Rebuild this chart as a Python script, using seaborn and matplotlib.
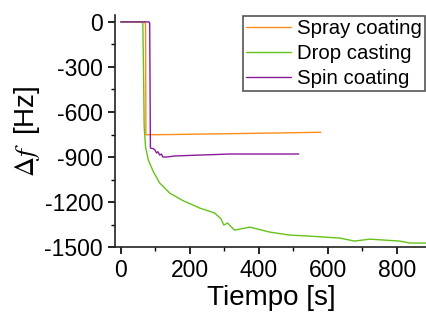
import pandas as pd
import seaborn as sns
import matplotlib.pyplot as plt

# datos
t_spray = [0, 70, 72, 73, 150, 300, 450, 580]
f_spray = [0, 0, -20, -752, -750, -745, -740, -735]

t_drop = [0, 64, 66, 68, 72, 80, 95, 113, 142, 180, 229, 272, 290, 299, 310, 318, 330, 374, 432, 490, 548, 635, 678, 722, 809, 838, 887]
f_drop = [0, 0, -300, -700, -833, -920, -1000, -1073, -1140, -1190, -1240, -1273, -1310, -1353, -1340, -1360, -1387, -1367, -1400, -1420, -1427, -1440, -1460, -1447, -1460, -1473, -1473]

t_spin = [0, 82, 84, 86, 95, 99, 104, 108, 113, 118, 122, 133, 157, 229, 316, 400, 516]
f_spin = [0, 0, -10, -840, -845, -853, -873, -865, -887, -880, -900, -900, -893, -887, -880, -880, -880]

labels = ["Spray coating", "Drop casting", "Spin coating"]
colores = ["#ff8c1a", "#66c21a", "#8a1a9b"]

df = pd.concat([
    pd.DataFrame({"t": t_spray, "f": f_spray, "serie": labels[0]}),
    pd.DataFrame({"t": t_drop, "f": f_drop, "serie": labels[1]}),
    pd.DataFrame({"t": t_spin, "f": f_spin, "serie": labels[2]}),
])

sns.set_style("ticks")
plt.rcParams['font.family'] = ['Liberation Sans', 'DejaVu Sans']
plt.rcParams['mathtext.fontset'] = 'stix'
plt.rcParams['axes.unicode_minus'] = False
plt.rcParams['text.color'] = 'black'
plt.rcParams['axes.labelcolor'] = 'black'
plt.rcParams['xtick.color'] = 'black'
plt.rcParams['ytick.color'] = 'black'
plt.rcParams['axes.edgecolor'] = '#222222'
plt.rcParams['axes.linewidth'] = 1.2
plt.rcParams['xtick.major.width'] = 1.2
plt.rcParams['ytick.major.width'] = 1.2
plt.rcParams['xtick.minor.width'] = 1.0
plt.rcParams['ytick.minor.width'] = 1.0

fig = plt.figure(figsize=(4.27, 3.23), dpi=100)
ax = fig.add_axes([0.269, 0.235, 0.731, 0.719])

sns.lineplot(data=df, x="t", y="f", hue="serie", palette=colores, sort=False,
             estimator=None, linewidth=1.0, ax=ax)

ax.set_xlim(-17, 888)
ax.set_ylim(-1500, 47)
ax.set_xticks([0, 200, 400, 600, 800])
ax.set_xticks([100, 300, 500, 700], minor=True)
ax.set_yticks([0, -300, -600, -900, -1200, -1500])
ax.set_yticks([-150, -450, -750, -1050, -1350], minor=True)
ax.tick_params(which='major', length=5, labelsize=16.5)
ax.tick_params(which='minor', length=3)
sns.despine(ax=ax)

ax.set_xlabel("Tiempo [s]", fontsize=20, labelpad=2)
ax.set_ylabel(r"$\it{\Delta f}\ $ [Hz]", fontsize=20, labelpad=2)

leg = ax.legend(loc='upper left', bbox_to_anchor=(243 / 427, 1 - 16 / 323),
                bbox_transform=fig.transFigure, fontsize=14.7, frameon=True,
                fancybox=False, edgecolor='#555555', framealpha=1,
                handlelength=2.2, handletextpad=0.3, borderpad=0.15,
                labelspacing=0.3, borderaxespad=0)
leg.get_frame().set_linewidth(1.2)

fig.savefig("out.png", dpi=100)
